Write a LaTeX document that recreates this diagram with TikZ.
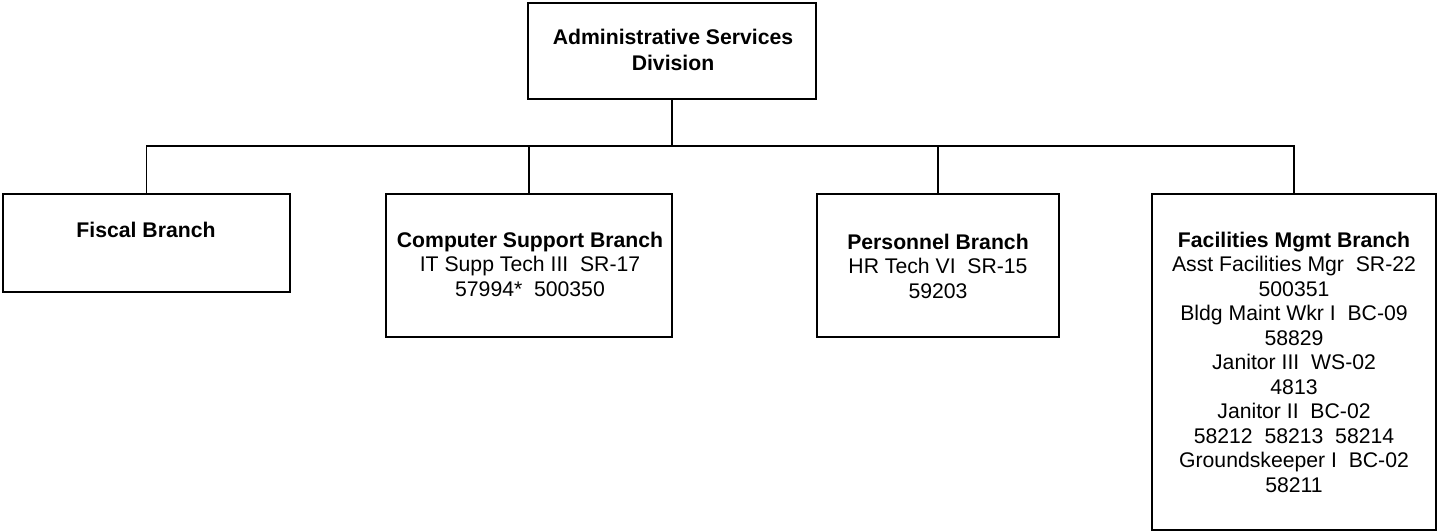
\documentclass[tikz,border=0pt]{standalone}
\usepackage{fontspec}
\setmainfont{Liberation Sans}
\begin{document}
\begin{tikzpicture}[x=1pt,y=-1pt,
  box/.style={draw=black,line width=2.4pt,rectangle,inner sep=0pt,outer sep=0pt},
  conn/.style={draw=black,line width=1.3pt},
  txt/.style={inner sep=0pt,align=center,font=\fontsize{21.2}{24.5}\selectfont},
  toptxt/.style={inner sep=0pt,align=center,font=\fontsize{21.2}{26}\selectfont\bfseries}]
\useasboundingbox (0,0) rectangle (1439,532);
% boxes
\node[box,minimum width=288pt,minimum height=96pt] (top) at (672,51) {};
\node[box,minimum width=287pt,minimum height=98pt] (fiscal) at (146.5,243) {};
\node[box,minimum width=286pt,minimum height=143pt] (comp) at (529,265.5) {};
\node[box,minimum width=242pt,minimum height=143pt] (pers) at (938,265.5) {};
\node[box,minimum width=284pt,minimum height=336pt] (facil) at (1294,362) {};
% texts
\node[toptxt] (toptext) at (673,50) {Administrative Services\\Division};
\node[txt,font=\fontsize{21.2}{24.5}\selectfont\bfseries] (fiscaltext) at (146,230) {Fiscal Branch};
\node[txt] (comptext) at (530,264) {\textbf{Computer Support Branch}\\IT Supp Tech III\ \ SR-17\\57994*\ \ 500350};
\node[txt] (perstext) at (938,266) {\textbf{Personnel Branch}\\HR Tech VI\ \ SR-15\\59203};
\node[txt] (faciltext) at (1294,362) {\textbf{Facilities Mgmt Branch}\\Asst Facilities Mgr\ \ SR-22\\500351\\Bldg Maint Wkr I\ \ BC-09\\58829\\Janitor III\ \ WS-02\\4813\\Janitor II\ \ BC-02\\58212\ \ 58213\ \ 58214\\Groundskeeper I\ \ BC-02\\58211};
% connectors
\coordinate (bus) at (0,146);
\draw[conn] (top.south) -- (top.south |- bus);
\draw[conn] (fiscal.north) -- (fiscal.north |- bus) -- (facil.north |- bus) -- (facil.north);
\draw[conn] (comp.north) -- (comp.north |- bus);
\draw[conn] (pers.north) -- (pers.north |- bus);
\end{tikzpicture}
\end{document}
